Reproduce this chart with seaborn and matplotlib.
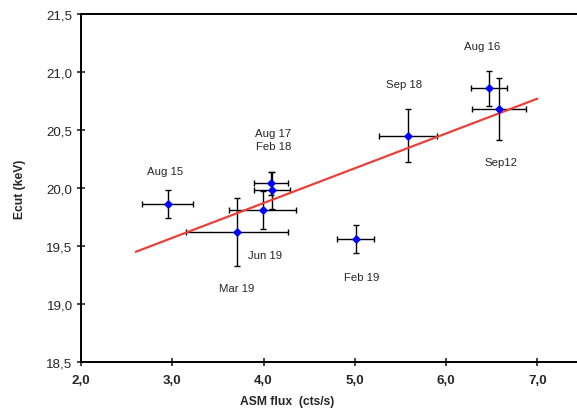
import numpy as np
import pandas as pd
import matplotlib
matplotlib.use("Agg")
import matplotlib.pyplot as plt
import seaborn as sns

# observations
labels = ["Aug 15", "Aug 17", "Feb 18", "Jun 19", "Mar 19", "Sep 18", "Aug 16", "Sep12", "Feb 19"]
asm_flux = [2.95, 4.08, 4.09, 3.99, 3.71, 5.58, 6.47, 6.58, 5.01]
ecut = [19.86, 20.04, 19.98, 19.81, 19.62, 20.45, 20.86, 20.68, 19.56]
flux_err = [0.28, 0.19, 0.20, 0.37, 0.56, 0.32, 0.20, 0.30, 0.20]
ecut_err = [0.12, 0.10, 0.16, 0.16, 0.29, 0.23, 0.15, 0.27, 0.12]

# where the labels sit
label_x = [2.92, 4.11, 4.11, 4.02, 3.71, 5.54, 6.39, 6.60, 5.07]
label_y = [20.15, 20.47, 20.36, 19.42, 19.14, 20.90, 21.22, 20.22, 19.23]

# linear fit line
fit_x = [2.6, 7.0]
fit_y = [19.45, 20.77]

# axis ticks
x_ticks = [2.0, 3.0, 4.0, 5.0, 6.0, 7.0]
x_ticklabels = ["2,0", "3,0", "4,0", "5,0", "6,0", "7,0"]
y_ticks = [18.5, 19.0, 19.5, 20.0, 20.5, 21.0, 21.5]
y_ticklabels = ["18,5", "19,0", "19,5", "20,0", "20,5", "21,0", "21,5"]

data = pd.DataFrame({"flux": asm_flux, "ecut": ecut})
fit = pd.DataFrame({"flux": fit_x, "ecut": fit_y})

sns.set_style("ticks")
plt.rcParams["font.family"] = ["Liberation Sans", "DejaVu Sans"]

fig = plt.figure(figsize=(5.77, 4.10), dpi=100)
ax = fig.add_axes([81 / 577, 47 / 410, 502 / 577, 348 / 410])

ax.errorbar(asm_flux, ecut, xerr=flux_err, yerr=ecut_err, fmt="none",
            ecolor="black", elinewidth=1.0, capsize=2.5, capthick=1.0, zorder=2)
sns.lineplot(data=fit, x="flux", y="ecut", color="#e8413a", linewidth=1.6, ax=ax, zorder=3)
sns.scatterplot(data=data, x="flux", y="ecut", marker="D", color="#0000ff",
                s=22, edgecolor="#0000ff", linewidth=0, ax=ax, zorder=4)

for lab, lx, ly in zip(labels, label_x, label_y):
    ax.text(lx, ly, lab, ha="center", va="center", fontsize=8.2)

ax.set_xlim(2.0, 7.5)
ax.set_ylim(18.5, 21.5)
ax.set_xticks(x_ticks)
ax.set_xticklabels(x_ticklabels, fontweight="bold", fontsize=9.6)
ax.set_yticks(y_ticks)
ax.set_yticklabels(y_ticklabels, fontsize=9.6)
ax.tick_params(direction="inout", length=6, width=1.2, pad=3)
ax.tick_params(axis="x", pad=6)
ax.set_xlabel("ASM flux  (cts/s)", fontweight="bold", fontsize=8.7, va="center")
ax.set_ylabel("Ecut (keV)", fontweight="bold", fontsize=8.7, va="center")
ax.xaxis.set_label_coords(0.41, -0.112)
ax.yaxis.set_label_coords(-0.122, 0.5)
for side in ["left", "bottom", "top", "right"]:
    ax.spines[side].set_visible(True)
    ax.spines[side].set_linewidth(1.4)
    ax.spines[side].set_color("black")

fig.savefig("out.png", dpi=100)
